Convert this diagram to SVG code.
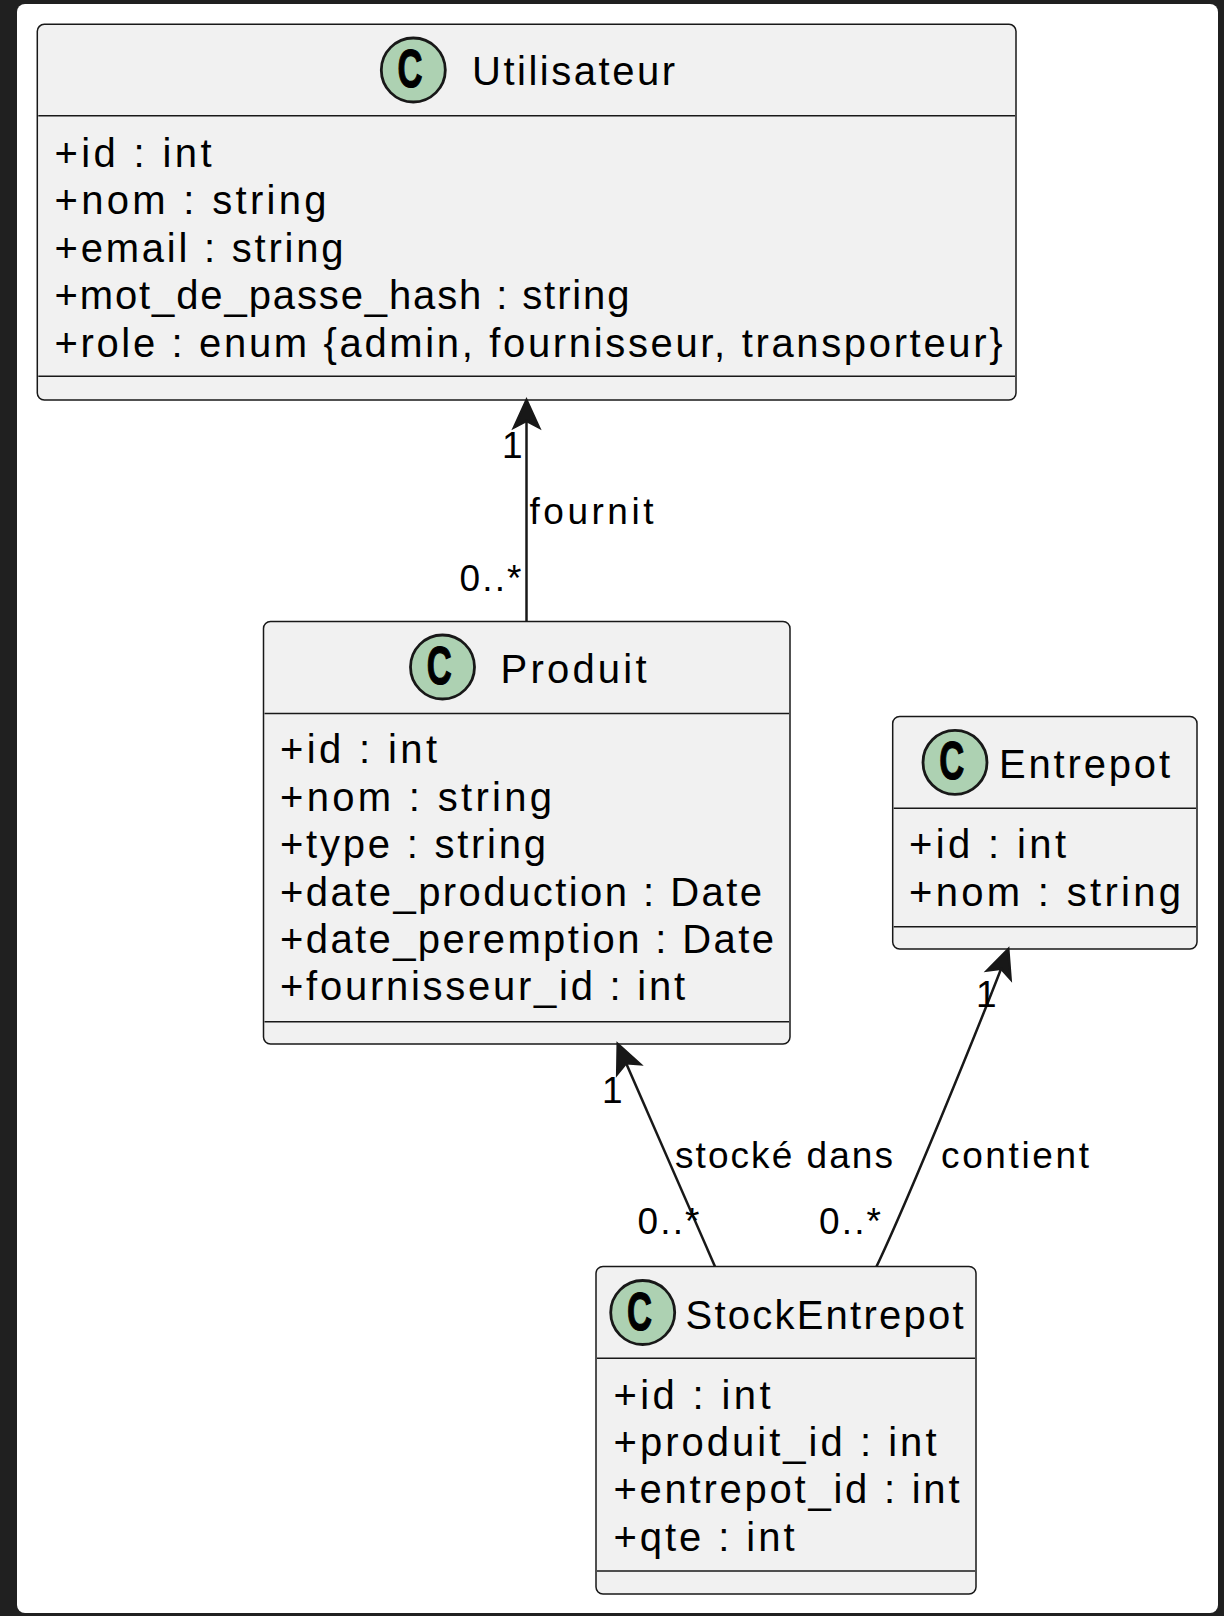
<svg xmlns="http://www.w3.org/2000/svg" width="1224" height="1616" viewBox="0 0 1224 1616">
<style>
.box{fill:#F1F1F1;stroke:#181818;stroke-width:1.5}
.sep{stroke:#181818;stroke-width:1.5}
.circ{fill:#ADD1B2;stroke:#181818;stroke-width:2.8}
.cg{font-family:"Liberation Sans",Arial,sans-serif;font-weight:bold;font-size:54px;fill:#000;stroke:#000;stroke-width:1.2}
.t{font-family:"Liberation Sans",Arial,sans-serif;font-size:40px;fill:#000}
.lbl{font-family:"Liberation Sans",Arial,sans-serif;font-size:37px;fill:#000}
.edge{fill:none;stroke:#181818;stroke-width:2.5}
.head{fill:#181818;stroke:#181818;stroke-width:2.5;stroke-linejoin:miter}
</style>
<rect x="0" y="0" width="1224" height="1616" fill="#202020"/>
<rect x="17" y="4" width="1201" height="1609" rx="8" fill="#FFFFFF"/>

<g id="Utilisateur">
<rect class="box" x="37.3" y="24.3" width="978.7" height="375.7" rx="7"/>
<line class="sep" x1="38.3" y1="115.7" x2="1015" y2="115.7"/>
<line class="sep" x1="38.3" y1="376.3" x2="1015" y2="376.3"/>
<circle class="circ" cx="413.3" cy="70" r="32"/>
<text class="cg" x="397.5" y="87" textLength="25" lengthAdjust="spacingAndGlyphs">C</text>
<text class="t" x="472" y="85" textLength="203" lengthAdjust="spacing">Utilisateur</text>
<text class="t" x="54.5" y="167" textLength="157" lengthAdjust="spacing">+id : int</text>
<text class="t" x="54.5" y="214.4" textLength="272" lengthAdjust="spacing">+nom : string</text>
<text class="t" x="54.5" y="261.8" textLength="289" lengthAdjust="spacing">+email : string</text>
<text class="t" x="54.5" y="309.2" textLength="575" lengthAdjust="spacing">+mot_de_passe_hash : string</text>
<text class="t" x="54.5" y="356.6" textLength="948" lengthAdjust="spacing">+role : enum {admin, fournisseur, transporteur}</text>
</g>

<g id="Produit">
<rect class="box" x="263.5" y="621.5" width="526.5" height="422.5" rx="7"/>
<line class="sep" x1="264.5" y1="713.5" x2="789" y2="713.5"/>
<line class="sep" x1="264.5" y1="1021.7" x2="789" y2="1021.7"/>
<circle class="circ" cx="442.5" cy="667" r="32"/>
<text class="cg" x="426.7" y="684" textLength="25" lengthAdjust="spacingAndGlyphs">C</text>
<text class="t" x="500.5" y="683" textLength="146" lengthAdjust="spacing">Produit</text>
<text class="t" x="280" y="763.3" textLength="157" lengthAdjust="spacing">+id : int</text>
<text class="t" x="280" y="810.7" textLength="272" lengthAdjust="spacing">+nom : string</text>
<text class="t" x="280" y="858.1" textLength="266" lengthAdjust="spacing">+type : string</text>
<text class="t" x="280" y="905.5" textLength="482" lengthAdjust="spacing">+date_production : Date</text>
<text class="t" x="280" y="952.9" textLength="494" lengthAdjust="spacing">+date_peremption : Date</text>
<text class="t" x="280" y="1000.3" textLength="405" lengthAdjust="spacing">+fournisseur_id : int</text>
</g>

<g id="Entrepot">
<rect class="box" x="892.7" y="716.5" width="304.3" height="232.5" rx="7"/>
<line class="sep" x1="893.7" y1="808.3" x2="1196" y2="808.3"/>
<line class="sep" x1="893.7" y1="926.7" x2="1196" y2="926.7"/>
<circle class="circ" cx="955" cy="762.4" r="32"/>
<text class="cg" x="939.2" y="779.4" textLength="25" lengthAdjust="spacingAndGlyphs">C</text>
<text class="t" x="999" y="778" textLength="171" lengthAdjust="spacing">Entrepot</text>
<text class="t" x="909" y="858.3" textLength="157" lengthAdjust="spacing">+id : int</text>
<text class="t" x="909" y="905.7" textLength="272" lengthAdjust="spacing">+nom : string</text>
</g>

<g id="StockEntrepot">
<rect class="box" x="596" y="1266.5" width="380" height="327.5" rx="7"/>
<line class="sep" x1="597" y1="1358.3" x2="975" y2="1358.3"/>
<line class="sep" x1="597" y1="1571" x2="975" y2="1571"/>
<circle class="circ" cx="642.7" cy="1312.5" r="32"/>
<text class="cg" x="626.9" y="1329.5" textLength="25" lengthAdjust="spacingAndGlyphs">C</text>
<text class="t" x="685.5" y="1328.5" textLength="278" lengthAdjust="spacing">StockEntrepot</text>
<text class="t" x="613.5" y="1408.6" textLength="157" lengthAdjust="spacing">+id : int</text>
<text class="t" x="613.5" y="1456" textLength="323" lengthAdjust="spacing">+produit_id : int</text>
<text class="t" x="613.5" y="1503.4" textLength="346" lengthAdjust="spacing">+entrepot_id : int</text>
<text class="t" x="613.5" y="1550.8" textLength="181" lengthAdjust="spacing">+qte : int</text>
</g>

<g id="connectors">
<g id="fournit">
<line class="edge" x1="526.5" y1="621.5" x2="526.5" y2="421"/>
<polygon class="head" points="526.5,400 514,427.5 526.5,421 539,427.5"/>
<text class="lbl" x="529.5" y="524" textLength="124" lengthAdjust="spacing">fournit</text>
<text class="lbl" x="502" y="458.3">1</text>
<text class="lbl" x="459.5" y="591" textLength="62" lengthAdjust="spacing">0..*</text>
</g>
<g id="stocke">
<line class="edge" x1="715" y1="1266.5" x2="626.1" y2="1063.2"/>
<polygon class="head" points="617.7,1044 640.2,1064.2 626.1,1063.2 617.2,1074.2"/>
<text class="lbl" x="675" y="1168.3" textLength="218" lengthAdjust="spacing">stocké dans</text>
<text class="lbl" x="602" y="1103.3">1</text>
<text class="lbl" x="637.5" y="1233.5" textLength="62" lengthAdjust="spacing">0..*</text>
</g>
<g id="contient">
<path class="edge" d="M876.5,1266.5 C908,1200 975,1036 1001.1,968.7"/>
<polygon class="head" points="1008.3,949 1010.6,979.2 1001.1,968.7 987.1,970.6"/>
<text class="lbl" x="941" y="1168.3" textLength="148" lengthAdjust="spacing">contient</text>
<text class="lbl" x="976" y="1007">1</text>
<text class="lbl" x="819" y="1233.5" textLength="62" lengthAdjust="spacing">0..*</text>
</g>
</g>
</svg>
